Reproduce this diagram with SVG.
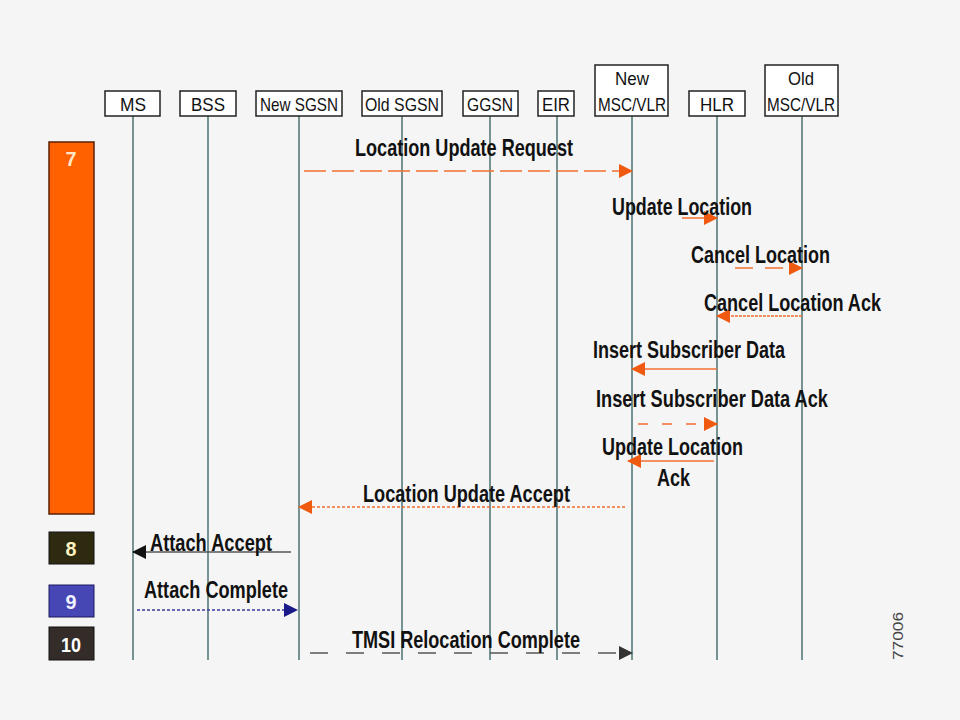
<svg xmlns="http://www.w3.org/2000/svg" width="960" height="720" viewBox="0 0 960 720">
<style>
.hd{fill:#fff;stroke:#222;stroke-width:1.5}
.ht{font-family:"Liberation Sans",Arial,sans-serif;font-size:19px;fill:#111;text-anchor:middle}
.ll{stroke:#4a7272;stroke-width:1.5}
.mt{font-family:"Liberation Sans",Arial,sans-serif;font-weight:bold;font-size:23px;fill:#111}
.or{stroke:#f07030;stroke-width:1.5;fill:none}
.st{font-family:"Liberation Sans",Arial,sans-serif;font-weight:bold;font-size:21px;text-anchor:middle}
</style>
<defs>
<marker id="ao" markerWidth="14" markerHeight="14" refX="13" refY="7" orient="auto" markerUnits="userSpaceOnUse"><path d="M0,0 L14,7 L0,14 z" fill="#f05a10"/></marker>
<marker id="ab" markerWidth="14" markerHeight="14" refX="13" refY="7" orient="auto" markerUnits="userSpaceOnUse"><path d="M0,0 L14,7 L0,14 z" fill="#111"/></marker>
<marker id="au" markerWidth="14" markerHeight="14" refX="13" refY="7" orient="auto" markerUnits="userSpaceOnUse"><path d="M0,0 L14,7 L0,14 z" fill="#1a1a8a"/></marker>
<marker id="ad" markerWidth="14" markerHeight="14" refX="13" refY="7" orient="auto" markerUnits="userSpaceOnUse"><path d="M0,0 L14,7 L0,14 z" fill="#333"/></marker>
</defs>
<rect width="960" height="720" fill="#f5f5f5"/>
<g id="lifelines">
<line class="ll" x1="133" y1="116" x2="133" y2="660"/>
<line class="ll" x1="208" y1="116" x2="208" y2="660"/>
<line class="ll" x1="299" y1="116" x2="299" y2="660"/>
<line class="ll" x1="402" y1="116" x2="402" y2="660"/>
<line class="ll" x1="490" y1="116" x2="490" y2="660"/>
<line class="ll" x1="557" y1="116" x2="557" y2="660"/>
<line class="ll" x1="632" y1="116" x2="632" y2="660"/>
<line class="ll" x1="717" y1="116" x2="717" y2="660"/>
<line class="ll" x1="802" y1="116" x2="802" y2="660"/>
</g>
<g id="node-ms"><rect class="hd" x="105" y="91" width="55" height="25"/><text class="ht" x="133" y="111" textLength="26" lengthAdjust="spacingAndGlyphs">MS</text></g>
<g id="node-bss"><rect class="hd" x="180" y="91" width="56" height="25"/><text class="ht" x="208" y="111" textLength="34" lengthAdjust="spacingAndGlyphs">BSS</text></g>
<g id="node-newsgsn"><rect class="hd" x="256" y="91" width="86" height="25"/><text class="ht" x="299" y="111" textLength="78" lengthAdjust="spacingAndGlyphs">New SGSN</text></g>
<g id="node-oldsgsn"><rect class="hd" x="362" y="91" width="80" height="25"/><text class="ht" x="402" y="111" textLength="74" lengthAdjust="spacingAndGlyphs">Old SGSN</text></g>
<g id="node-ggsn"><rect class="hd" x="463" y="91" width="55" height="25"/><text class="ht" x="490" y="111" textLength="46" lengthAdjust="spacingAndGlyphs">GGSN</text></g>
<g id="node-eir"><rect class="hd" x="538" y="91" width="36" height="25"/><text class="ht" x="556" y="111" textLength="28" lengthAdjust="spacingAndGlyphs">EIR</text></g>
<g id="node-newmsc"><rect class="hd" x="595" y="65" width="73" height="51"/><text class="ht" x="632" y="85" textLength="34" lengthAdjust="spacingAndGlyphs">New</text><text class="ht" x="632" y="111" textLength="68" lengthAdjust="spacingAndGlyphs">MSC/VLR</text></g>
<g id="node-hlr"><rect class="hd" x="689" y="91" width="56" height="25"/><text class="ht" x="717" y="111" textLength="34" lengthAdjust="spacingAndGlyphs">HLR</text></g>
<g id="node-oldmsc"><rect class="hd" x="765" y="65" width="73" height="51"/><text class="ht" x="801" y="85" textLength="26" lengthAdjust="spacingAndGlyphs">Old</text><text class="ht" x="801" y="111" textLength="68" lengthAdjust="spacingAndGlyphs">MSC/VLR</text></g>
<g id="steps">
<rect x="49" y="142" width="45" height="372" fill="#ff6000" stroke="#5a2000" stroke-width="1.5"/>
<text class="st" x="71" y="166" fill="#ffe8c8" textLength="11" lengthAdjust="spacingAndGlyphs">7</text>
<rect x="49" y="532" width="45" height="32" fill="#2e2a10" stroke="#111" stroke-width="1"/>
<text class="st" x="71" y="556" fill="#fff4c0" textLength="11" lengthAdjust="spacingAndGlyphs">8</text>
<rect x="49" y="585" width="45" height="32" fill="#4646b4" stroke="#1a1a60" stroke-width="1"/>
<text class="st" x="71" y="609" fill="#f0f0ff" textLength="11" lengthAdjust="spacingAndGlyphs">9</text>
<rect x="49" y="627" width="45" height="33" fill="#332c28" stroke="#111" stroke-width="1"/>
<text class="st" x="71" y="652" fill="#fff" textLength="20" lengthAdjust="spacingAndGlyphs">10</text>
</g>
<g id="connectors">
<line class="or" x1="304" y1="171" x2="632" y2="171" marker-end="url(#ao)" style="stroke-dasharray:22 6"/>
<line class="or" x1="682" y1="218" x2="717" y2="218" marker-end="url(#ao)" style="stroke-dasharray:22 6"/>
<line class="or" x1="735" y1="268" x2="802" y2="268" marker-end="url(#ao)" style="stroke-dasharray:18 12"/>
<line class="or" x1="802" y1="316" x2="717" y2="316" marker-end="url(#ao)" style="stroke-dasharray:3 1"/>
<line class="or" x1="717" y1="369" x2="632" y2="369" marker-end="url(#ao)"/>
<line class="or" x1="638" y1="424" x2="717" y2="424" marker-end="url(#ao)" style="stroke-dasharray:10 14"/>
<line class="or" x1="714" y1="461" x2="628" y2="461" marker-end="url(#ao)"/>
<line class="or" x1="625" y1="507" x2="299" y2="507" marker-end="url(#ao)" style="stroke-dasharray:3 2"/>
<line x1="291" y1="552" x2="133" y2="552" stroke="#555" stroke-width="1.5" marker-end="url(#ab)"/>
<line x1="137" y1="610" x2="297" y2="610" stroke="#3a3aa0" stroke-width="1.5" stroke-dasharray="3 2" marker-end="url(#au)"/>
<line x1="310" y1="653" x2="632" y2="653" stroke="#555" stroke-width="1.5" stroke-dasharray="18 18" marker-end="url(#ad)"/>
</g>
<g id="labels">
<text class="mt" x="355" y="156" textLength="218" lengthAdjust="spacingAndGlyphs">Location Update Request</text>
<text class="mt" x="612" y="215" textLength="140" lengthAdjust="spacingAndGlyphs">Update Location</text>
<text class="mt" x="691" y="263" textLength="139" lengthAdjust="spacingAndGlyphs">Cancel Location</text>
<text class="mt" x="704" y="311" textLength="177" lengthAdjust="spacingAndGlyphs">Cancel Location Ack</text>
<text class="mt" x="593" y="358" textLength="192" lengthAdjust="spacingAndGlyphs">Insert Subscriber Data</text>
<text class="mt" x="596" y="407" textLength="232" lengthAdjust="spacingAndGlyphs">Insert Subscriber Data Ack</text>
<text class="mt" x="602" y="455" textLength="141" lengthAdjust="spacingAndGlyphs">Update Location</text>
<text class="mt" x="657" y="486" textLength="33" lengthAdjust="spacingAndGlyphs">Ack</text>
<text class="mt" x="363" y="502" textLength="207" lengthAdjust="spacingAndGlyphs">Location Update Accept</text>
<text class="mt" x="150" y="551" textLength="122" lengthAdjust="spacingAndGlyphs">Attach Accept</text>
<text class="mt" x="144" y="598" textLength="144" lengthAdjust="spacingAndGlyphs">Attach Complete</text>
<text class="mt" x="352" y="648" textLength="228" lengthAdjust="spacingAndGlyphs">TMSI Relocation Complete</text>
<text x="903" y="660" transform="rotate(-90 903 660)" font-family="Liberation Sans,Arial,sans-serif" font-size="14" fill="#444" textLength="48" lengthAdjust="spacingAndGlyphs">77006</text>
</g>
</svg>
